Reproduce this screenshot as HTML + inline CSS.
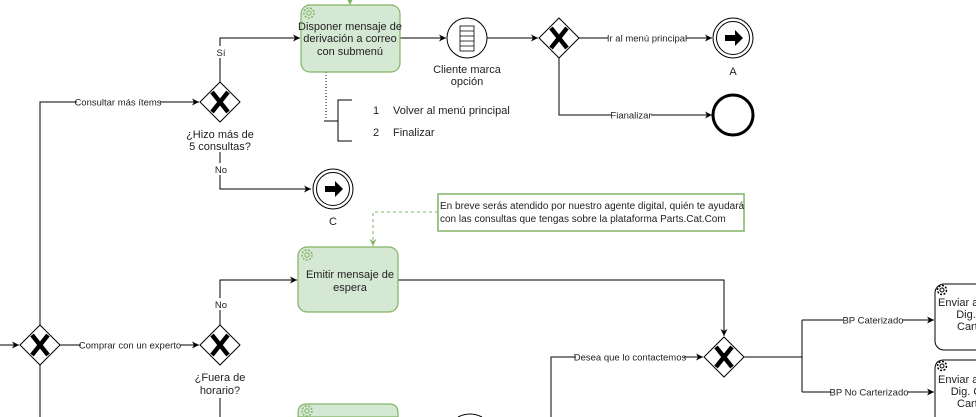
<!DOCTYPE html>
<html><head><meta charset="utf-8"><style>
html,body{margin:0;padding:0;background:#fff;width:976px;height:417px;overflow:hidden;}
svg{display:block;font-family:"Liberation Sans",Arial,sans-serif;}
</style></head><body>
<svg width="976" height="417" viewBox="0 0 976 417" xmlns="http://www.w3.org/2000/svg">
<defs>
<marker id="ar" markerWidth="8" markerHeight="8" refX="7" refY="4" orient="auto" markerUnits="userSpaceOnUse"><path d="M0,0.5 L7,4 L0,7.5 L2,4 Z" fill="#000"/></marker>
<marker id="ag" markerWidth="8" markerHeight="8" refX="7" refY="4" orient="auto" markerUnits="userSpaceOnUse"><path d="M0,0.5 L7,4 L0,7.5 L2,4 Z" fill="#82b366"/></marker>
<g id="gw"><path d="M0,-20 L20,0 L0,20 L-20,0 Z" fill="#fff" stroke="#000" stroke-width="1"/><path d="M-8,-10 L8,10 M8,-10 L-8,10" stroke="#000" stroke-width="4.5"/></g>
<g id="gear"><circle r="5" fill="none" stroke="#82b366" stroke-width="1.5" stroke-dasharray="2 1.5"/><circle r="2.2" fill="none" stroke="#82b366" stroke-width="1"/></g>
<g id="gearb"><circle r="4.5" fill="none" stroke="#000" stroke-width="1.5" stroke-dasharray="2 1.5"/><circle r="2" fill="none" stroke="#000" stroke-width="1"/></g>
<g id="link"><path d="M-9,-3 L1,-3 L1,-8 L9,0 L1,8 L1,3 L-9,3 Z" fill="#000"/></g>
</defs>
<g fill="none" stroke="#000" stroke-width="1">
<path d="M350,0 L350,5" stroke="#82b366" marker-end="url(#ag)"/>
<path d="M400,38 L446,38" marker-end="url(#ar)"/>
<path d="M487,38 L538,38" marker-end="url(#ar)"/>
<path d="M579,38 L712,38" marker-end="url(#ar)"/>
<path d="M559,58 L559,115 L712,115" marker-end="url(#ar)"/>
<path d="M326,72 L326,120" stroke-dasharray="1 2"/>
<path d="M324,121 L338,121 M352,100 L338,100 L338,141 L352,141"/>
<path d="M220,82 L220,38 L300,38" marker-end="url(#ar)"/>
<path d="M220,152 L220,189 L311,189" marker-end="url(#ar)"/>
<path d="M40,325 L40,102 L199,102" marker-end="url(#ar)"/>
<path d="M438,212 L373,212 L373,246" stroke="#82b366" stroke-dasharray="3 3" marker-end="url(#ag)"/>
<path d="M0,345 L19,345" marker-end="url(#ar)"/>
<path d="M60,345 L199,345" marker-end="url(#ar)"/>
<path d="M40,365 L40,417"/>
<path d="M220,325 L220,280 L297,280" marker-end="url(#ar)"/>
<path d="M220,398 L220,417"/>
<path d="M398,280 L724,280 L724,336" marker-end="url(#ar)"/>
<path d="M551,417 L551,357 L703,357" marker-end="url(#ar)"/>
<path d="M744,357 L802,357 M802,320 L802,392"/>
<path d="M802,320 L934,320" marker-end="url(#ar)"/>
<path d="M802,392 L934,392" marker-end="url(#ar)"/>
</g>
<g fill="#fff">
<rect x="77" y="96" width="83" height="12"/>
<rect x="608" y="32" width="78" height="12"/>
<rect x="611" y="109" width="40" height="12"/>
<rect x="215" y="46" width="12" height="12"/>
<rect x="214" y="163" width="14" height="12"/>
<rect x="214" y="298" width="14" height="12"/>
<rect x="81" y="339" width="99" height="12"/>
<rect x="576" y="351" width="108" height="12"/>
<rect x="843" y="314" width="60" height="12"/>
<rect x="831" y="386" width="77" height="12"/>
</g>
<rect x="301" y="5" width="99" height="67" rx="9" fill="#d5e8d4" stroke="#82b366" stroke-width="1.2"/>
<use href="#gear" x="309" y="13"/>
<circle cx="467" cy="38" r="20" fill="#fff" stroke="#000"/>
<rect x="460" y="26" width="14" height="25" fill="#fff" stroke="#000" stroke-width="0.8"/>
<path d="M460,31 H474 M460,36 H474 M460,41 H474 M460,46 H474" stroke="#000" stroke-width="0.8"/>
<use href="#gw" x="559" y="38"/>
<circle cx="733" cy="38" r="20" fill="#fff" stroke="#000"/>
<circle cx="733" cy="38" r="16.5" fill="#fff" stroke="#000"/>
<use href="#link" x="734" y="38"/>
<circle cx="733" cy="115" r="20" fill="#fff" stroke="#000" stroke-width="3"/>
<use href="#gw" x="220" y="102"/>
<circle cx="333" cy="189" r="20" fill="#fff" stroke="#000"/>
<circle cx="333" cy="189" r="16.5" fill="#fff" stroke="#000"/>
<use href="#link" x="334" y="189"/>
<rect x="438" y="194" width="306" height="37" fill="#fff" stroke="#82b366" stroke-width="1.5"/>
<rect x="298" y="247" width="100" height="65" rx="9" fill="#d5e8d4" stroke="#82b366" stroke-width="1.2"/>
<use href="#gear" x="307" y="255"/>
<use href="#gw" x="40" y="345"/>
<use href="#gw" x="220" y="345"/>
<use href="#gw" x="724" y="357"/>
<path d="M298,417 L298,413 Q298,404 307,404 L389,404 Q398,404 398,413 L398,417 Z" fill="#d5e8d4" stroke="#82b366" stroke-width="1.2"/>
<use href="#gear" x="307" y="411"/>
<path d="M458,417 Q470,411 482,417" fill="none" stroke="#000"/>
<rect x="935" y="284" width="60" height="66" rx="9" fill="#fff" stroke="#000"/>
<use href="#gearb" x="942" y="290"/>
<path d="M935,417 L935,369 Q935,360 944,360 L976,360" fill="#fff" stroke="#000"/>
<use href="#gearb" x="942" y="366"/>
<g font-size="11" fill="#222" text-anchor="middle">
<text x="350" y="30">Disponer mensaje de</text>
<text x="350" y="42">derivación a correo</text>
<text x="350" y="55">con submenú</text>
<text x="467" y="73">Cliente marca</text>
<text x="467" y="85">opción</text>
<text x="733" y="75">A</text>
<text x="333" y="225">C</text>
<text x="220" y="138">¿Hizo más de</text>
<text x="220" y="150">5 consultas?</text>
<text x="220" y="381">¿Fuera de</text>
<text x="220" y="394">horario?</text>
<text x="350" y="278">Emitir mensaje de</text>
<text x="350" y="291">espera</text>
<text x="966" y="318">Dig.</text>
<text x="966" y="395">Dig. C</text>
</g>
<g font-size="9.5" fill="#222" text-anchor="middle">
<text x="118" y="105.5">Consultar más ítems</text>
<text x="647" y="41.5">Ir al menú principal</text>
<text x="631" y="118.5">Fianalizar</text>
<text x="221" y="56">Sí</text>
<text x="221" y="173">No</text>
<text x="221" y="308">No</text>
<text x="130" y="348.5">Comprar con un experto</text>
<text x="630" y="360.5">Desea que lo contactemos</text>
<text x="873" y="323.5">BP Caterizado</text>
<text x="869" y="395.5">BP No Carterizado</text>
</g>
<g font-size="11" fill="#222">
<text x="938" y="306">Enviar a</text>
<text x="957" y="330">Cart</text>
<text x="938" y="383">Enviar a</text>
<text x="957" y="407">Cart</text>
<text x="373" y="114">1</text>
<text x="393" y="114">Volver al menú principal</text>
<text x="373" y="136">2</text>
<text x="393" y="136">Finalizar</text>
<text x="440" y="209" font-size="10">En breve serás atendido por nuestro agente digital, quién te ayudará</text>
<text x="440" y="222" font-size="10">con las consultas que tengas sobre la plataforma Parts.Cat.Com</text>
</g>
</svg>
</body></html>
